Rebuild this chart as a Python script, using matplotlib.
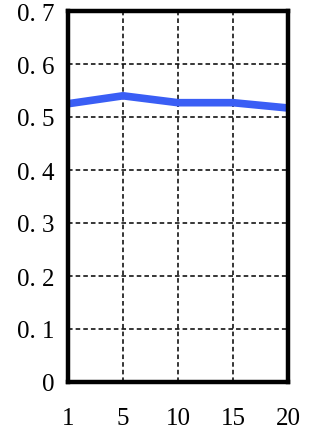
import numpy as np
import matplotlib.pyplot as plt

# data
x_labels = ['1', '5', '10', '15', '20']
values = [0.525, 0.540, 0.527, 0.527, 0.517]
y_ticks = [0, 0.1, 0.2, 0.3, 0.4, 0.5, 0.6, 0.7]
y_labels = ['0', '0. 1', '0. 2', '0. 3', '0. 4', '0. 5', '0. 6', '0. 7']

plt.rcParams['font.family'] = ['Liberation Serif', 'DejaVu Serif']

fig = plt.figure(figsize=(3.09, 4.35), dpi=100)
ax = fig.add_axes([68 / 309, 52 / 435, 220 / 309, 371 / 435])

pos = np.arange(len(x_labels))
ax.plot(pos, values, color='#3a5ef5', linewidth=5.5, solid_capstyle='butt', zorder=3)

ax.set_xlim(0, len(x_labels) - 1)
ax.set_ylim(0, 0.7)
ax.set_xticks(pos)
ax.set_xticklabels(x_labels)
ax.set_yticks(y_ticks)
ax.set_yticklabels(y_labels)
ax.tick_params(length=0, labelsize=18)
ax.tick_params(axis='y', pad=10)
ax.tick_params(axis='x', pad=18)

ax.grid(True, color='black', linestyle=(0, (3, 2)), linewidth=1.1)
for s in ax.spines.values():
    s.set_linewidth(3.2)
    s.set_zorder(4)

fig.savefig('out.png', dpi=100)
